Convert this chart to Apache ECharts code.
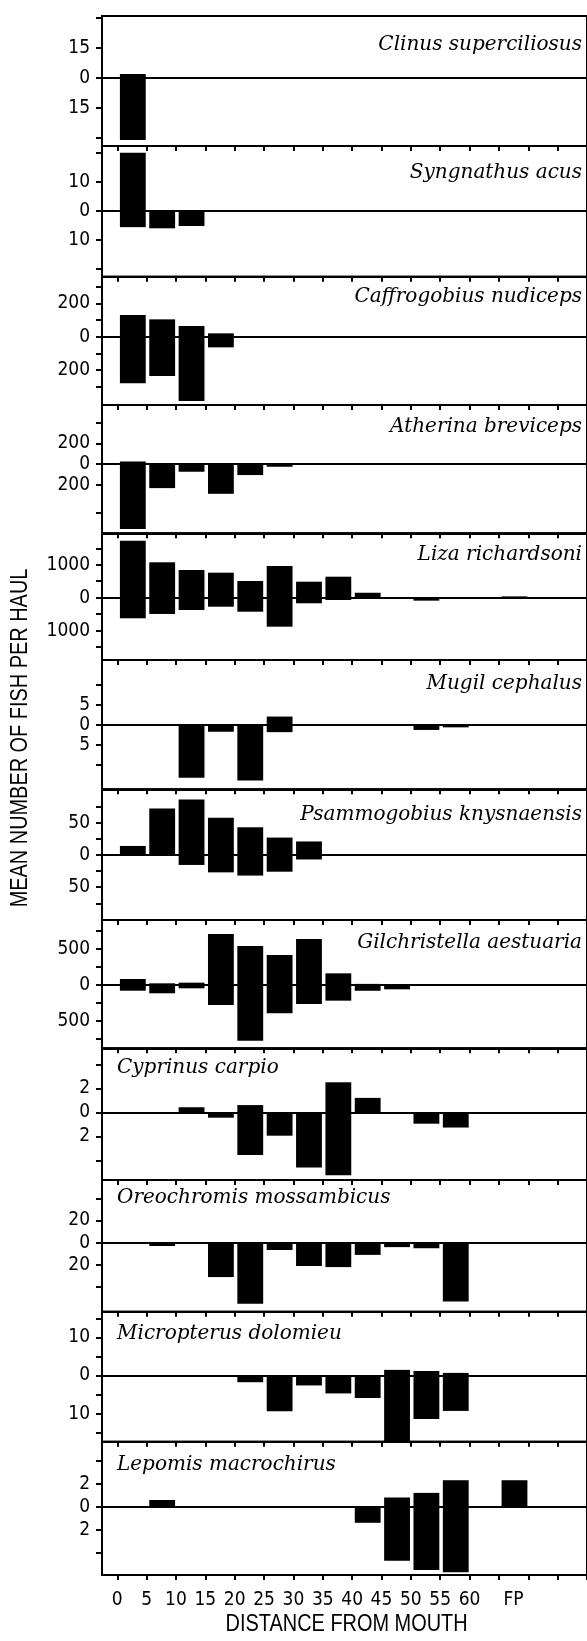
<!DOCTYPE html>
<html><head><meta charset="utf-8">
<script src="https://cdn.jsdelivr.net/npm/echarts@6/dist/echarts.min.js"></script>
<style>html,body{margin:0;padding:0;background:#fff}#c{width:587px;height:1641px}</style>
</head><body><div id="c"></div>
<script>
// ---------- DATA ----------
// distance bins (km from mouth); last bin is the floodplain "FP"
const binStart = [0, 5, 10, 15, 20, 25, 30, 35, 40, 45, 50, 55, 65];
const xTickValues = [0, 5, 10, 15, 20, 25, 30, 35, 40, 45, 50, 55, 60, 65, 70, 75, 80];
const xLabelValues = [0, 5, 10, 15, 20, 25, 30, 35, 40, 45, 50, 55, 60, 67.5];
const xLabelText = ['0', '5', '10', '15', '20', '25', '30', '35', '40', '45', '50', '55', '60', 'FP'];

const species = ['Clinus superciliosus', 'Syngnathus acus', 'Caffrogobius nudiceps', 'Atherina breviceps',
  'Liza richardsoni', 'Mugil cephalus', 'Psammogobius knysnaensis', 'Gilchristella aestuaria',
  'Cyprinus carpio', 'Oreochromis mossambicus', 'Micropterus dolomieu', 'Lepomis macrochirus'];

// values above the zero line (upper bars) and below it (lower bars), per bin
const clinusUp     = [2, 0, 0, 0, 0, 0, 0, 0, 0, 0, 0, 0, 0];
const clinusDown   = [31, 0, 0, 0, 0, 0, 0, 0, 0, 0, 0, 0, 0];
const syngUp       = [20, 0, 0, 0, 0, 0, 0, 0, 0, 0, 0, 0, 0];
const syngDown     = [5.7, 6.1, 5.3, 0.4, 0, 0, 0, 0, 0, 0, 0, 0, 0];
const caffroUp     = [130, 104, 64, 20, 0, 0, 0, 0, 0, 0, 0, 0, 0];
const caffroDown   = [280, 236, 386, 64, 0, 0, 0, 0, 0, 0, 0, 0, 0];
const atherUp      = [26, 0, 0, 0, 0, 0, 0, 0, 0, 0, 0, 0, 0];
const atherDown    = [625, 231, 73, 286, 105, 25, 0, 0, 0, 0, 0, 0, 0];
const lizaUp       = [1733, 1076, 842, 760, 508, 963, 486, 638, 150, 0, 0, 0, 40];
const lizaDown     = [626, 495, 374, 274, 426, 881, 170, 70, 0, 0, 90, 0, 0];
const mugilUp      = [0, 0, 0, 0, 0, 2.1, 0, 0, 0, 0, 0, 0, 0];
const mugilDown    = [0, 0, 13.2, 1.7, 13.9, 1.8, 0, 0, 0, 0, 1.25, 0.6, 0];
const psammoUp     = [14, 72, 86, 58, 43, 27, 21, 0, 0, 0, 0, 0, 0];
const psammoDown   = [0, 0, 15.5, 27, 32, 26, 7, 0, 0, 0, 0, 0, 0];
const gilchUp      = [83, 23, 32, 705, 539, 415, 636, 161, 15, 0, 0, 0, 0];
const gilchDown    = [79, 115, 46, 277, 770, 391, 263, 217, 80, 60, 0, 0, 0];
const cyprUp       = [0, 0, 0.42, 0, 0.6, 0, 0, 2.5, 1.2, 0, 0, 0, 0];
const cyprDown     = [0, 0, 0, 0.45, 3.56, 1.95, 4.6, 5.25, 0, 0, 0.95, 1.27, 0];
const oreoUp       = [0, 0, 0, 0, 0, 0, 0, 0.5, 0.5, 0, 0, 0, 0];
const oreoDown     = [0, 3, 0, 31, 55, 6.6, 21, 22, 11, 4, 5, 53, 0];
const micrUp       = [0, 0, 0, 0, 0, 0, 0, 0, 0, 1.5, 1.2, 0.7, 0];
const micrDown     = [0, 0, 0, 0.3, 1.75, 9.4, 2.6, 4.7, 5.9, 17.2, 11.4, 9.3, 0];
const lepoUp       = [0, 0.58, 0, 0, 0, 0, 0, 0, 0, 0.8, 1.2, 2.3, 2.3];
const lepoDown     = [0, 0, 0, 0, 0, 0, 0, 0, 1.4, 4.7, 5.5, 5.7, 0];

const upValues   = [clinusUp, syngUp, caffroUp, atherUp, lizaUp, mugilUp, psammoUp, gilchUp, cyprUp, oreoUp, micrUp, lepoUp];
const downValues = [clinusDown, syngDown, caffroDown, atherDown, lizaDown, mugilDown, psammoDown, gilchDown, cyprDown, oreoDown, micrDown, lepoDown];

// y-axis ranges and ticks per panel
const yMin = [-34, -22.8, -410, -667, -1894, -16.1, -101, -876, -5.64, -62.2, -17.4, -5.94];
const yMax = [31, 22.3, 360, 571, 1957, 16.25, 102, 899, 5.33, 56.5, 16.8, 5.65];
const yTicks = [
  [-30, -15, 0, 15, 30], [-20, -10, 0, 10, 20], [-300, -200, -100, 0, 100, 200, 300],
  [-470, -200, 0, 200, 400], [-1500, -1000, -500, 0, 500, 1000, 1500], [-10, -5, 0, 5, 10],
  [-75, -50, -25, 0, 25, 50, 75], [-750, -500, -250, 0, 250, 500, 750], [-4, -2, 0, 2, 4],
  [-40, -20, 0, 20, 40], [-15, -10, -5, 0, 5, 10, 15], [-4, -2, 0, 2, 4]];
const yLabels = [
  [-15, 0, 15], [-10, 0, 10], [-200, 0, 200], [-200, 0, 200], [-1000, 0, 1000], [-5, 0, 5],
  [-50, 0, 50], [-500, 0, 500], [-2, 0, 2], [-20, 0, 20], [-10, 0, 10], [-2, 0, 2]];

// ---------- LAYOUT ----------
const panelTop = [16, 146, 276.7, 405, 533.3, 660, 789.3, 920, 1048.3, 1180, 1311.7, 1441.7, 1575];
const titleBase = [51, 179, 302.7, 432.7, 561, 689.3, 820.7, 948.3, 1073.3, 1203.3, 1339.3, 1470.7];
const titleLeft = [false, false, false, false, false, false, false, false, true, true, true, true];
const X_MIN = -2.6, X_MAX = 80, PX_PER_UNIT = 6.5, GRID_LEFT = 102;

function fontAvailable(name) {
  const c = document.createElement('canvas').getContext('2d');
  const s = '0123456789 MEANWIDTH';
  c.font = '40px monospace'; const a = c.measureText(s).width;
  c.font = '40px "' + name + '", monospace'; const b = c.measureText(s).width;
  c.font = '40px serif'; const d = c.measureText(s).width;
  c.font = '40px "' + name + '", serif'; const e = c.measureText(s).width;
  return a !== b || d !== e;
}
let tickFont = 'Liberation Sans', tickSize = 19;
if (fontAvailable('Liberation Sans Narrow')) { tickFont = 'Liberation Sans Narrow'; tickSize = 21; }
else if (fontAvailable('DejaVu Sans Condensed')) { tickFont = 'DejaVu Sans Condensed'; tickSize = 19; }

const grids = [], xAxes = [], yAxes = [], series = [], graphics = [];
for (let i = 0; i < 12; i++) {
  grids.push({
    left: GRID_LEFT, top: panelTop[i], width: (X_MAX - X_MIN) * PX_PER_UNIT,
    height: panelTop[i + 1] - panelTop[i],
    show: true, borderColor: '#000', borderWidth: 2, containLabel: false
  });
  // zero line axis
  xAxes.push({
    type: 'value', gridIndex: i, min: X_MIN, max: X_MAX, position: 'top',
    axisLine: { show: true, onZero: true, lineStyle: { color: '#000', width: 2 } },
    axisTick: { show: false }, axisLabel: { show: false }, splitLine: { show: false }
  });
  // bottom axis with ticks
  xAxes.push({
    type: 'value', gridIndex: i, min: X_MIN, max: X_MAX, position: 'bottom',
    axisLine: { show: true, onZero: false, lineStyle: { color: '#000', width: 2 } },
    axisTick: { show: true, inside: false, length: 5, customValues: xTickValues, lineStyle: { color: '#000', width: 2 } },
    axisLabel: {
      show: i === 11, customValues: xLabelValues, margin: 16,
      formatter: v => xLabelText[xLabelValues.indexOf(v)] ?? '',
      color: '#000', fontFamily: tickFont, fontSize: tickSize
    },
    splitLine: { show: false }
  });
  yAxes.push({
    type: 'value', gridIndex: i, min: yMin[i], max: yMax[i],
    axisLine: { show: true, onZero: false, lineStyle: { color: '#000', width: 2 } },
    axisTick: { show: true, inside: false, length: 6, customValues: yTicks[i], lineStyle: { color: '#000', width: 2 } },
    axisLabel: {
      show: true, customValues: yLabels[i], margin: 12,
      formatter: v => String(Math.abs(v)),
      color: '#000', fontFamily: tickFont, fontSize: tickSize
    },
    splitLine: { show: false }
  });
  const data = [];
  for (let k = 0; k < binStart.length; k++) {
    if (upValues[i][k] > 0) data.push([binStart[k], upValues[i][k]]);
    if (downValues[i][k] > 0) data.push([binStart[k], -downValues[i][k]]);
  }
  series.push({
    type: 'custom', name: species[i], xAxisIndex: 2 * i + 1, yAxisIndex: i,
    coordinateSystem: 'cartesian2d', encode: { x: 0, y: 1 }, clip: false,
    data: data,
    renderItem: function (params, api) {
      const x0 = api.value(0), v = api.value(1);
      const p0 = api.coord([x0 + 0.45, v]);
      const p1 = api.coord([x0 + 4.85, 0]);
      return {
        type: 'rect',
        shape: { x: p0[0], y: Math.min(p0[1], p1[1]), width: p1[0] - p0[0], height: Math.abs(p1[1] - p0[1]) },
        style: { fill: '#000' }
      };
    }
  });
  graphics.push({
    type: 'text', x: titleLeft[i] ? 117 : 582, y: titleBase[i] - 6, silent: true,
    style: {
      text: species[i], font: 'italic 20px "DejaVu Serif"', fill: '#000',
      textAlign: titleLeft[i] ? 'left' : 'right', align: titleLeft[i] ? 'left' : 'right',
      textVerticalAlign: 'middle', verticalAlign: 'middle'
    }
  });
}
graphics.push({
  type: 'text', x: 20, y: 738, rotation: Math.PI / 2, scaleX: 0.83, silent: true,
  style: { text: 'MEAN NUMBER OF FISH PER HAUL', font: '24px "Liberation Sans"', fill: '#000',
    textAlign: 'center', align: 'center', textVerticalAlign: 'middle', verticalAlign: 'middle' }
});
graphics.push({
  type: 'text', x: 346.6, y: 1624, scaleX: 0.83, silent: true,
  style: { text: 'DISTANCE FROM MOUTH', font: '24px "Liberation Sans"', fill: '#000',
    textAlign: 'center', align: 'center', textVerticalAlign: 'middle', verticalAlign: 'middle' }
});

const chart = echarts.init(document.getElementById('c'), null, { renderer: 'canvas' });
chart.setOption({
  backgroundColor: '#fff', animation: false,
  grid: grids, xAxis: xAxes, yAxis: yAxes, series: series, graphic: graphics
});
</script></body></html>
